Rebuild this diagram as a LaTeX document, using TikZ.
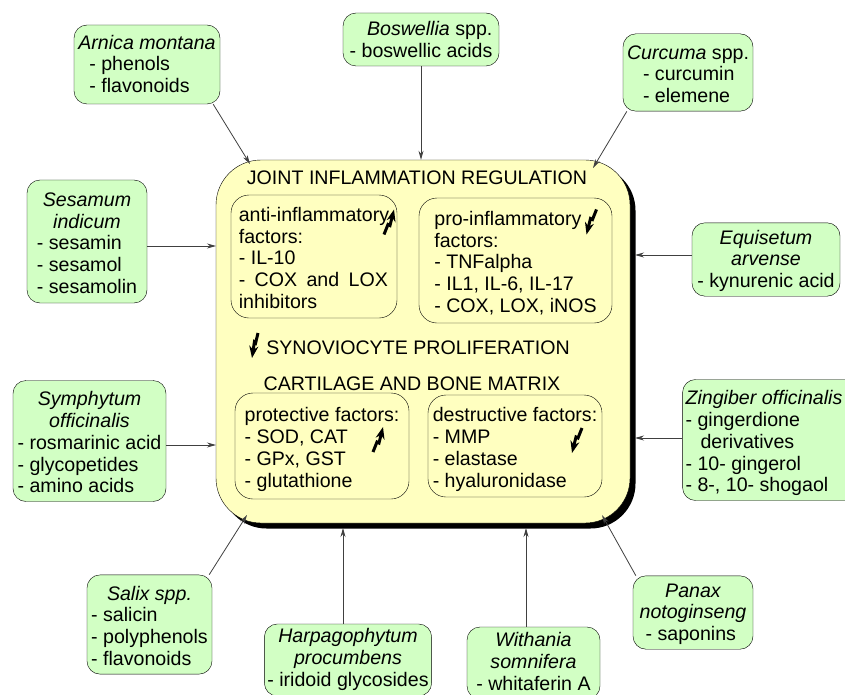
\documentclass[tikz,border=0pt]{standalone}
\usepackage{fontspec}
\setmainfont{Liberation Sans}
\usetikzlibrary{arrows.meta,shadows}

\definecolor{herb}{HTML}{D2FFC4}
\definecolor{jointbg}{HTML}{FFFFC0}

\newcommand{\genus}[1]{\multicolumn{1}{@{}c@{}}{\itshape #1}}
\newcommand{\listing}[2][8pt]{\begin{tabular}{@{}l@{}}\noalign{\vskip#1}#2\end{tabular}}

\tikzset{
  every node/.style={font=\fontsize{19.6}{21.8}\selectfont},
  plant/.style={draw, fill=herb, rounded corners=13pt, inner xsep=3pt, inner ysep=2pt},
  factor/.style={draw, rounded corners=18pt, inner sep=2pt},
  link/.style={draw=black!75, line width=0.8pt, -{Stealth[length=9pt,width=5pt]}},
  bolt/.style={line width=3pt, -{Stealth[length=12pt,width=9pt]}},
  boltup/.pic={\draw[bolt] (-5,12) -- (-1,2) -- (1,3) -- (5,-13);},
  boltdown/.pic={\draw[bolt] (5,-12) -- (1,-2) -- (-1,-3) -- (-5,13);}
}

\begin{document}
\begin{tikzpicture}[x=1pt,y=-1pt]
  \useasboundingbox[fill=white] (0,0) rectangle (845,695);

  % central box
  \node[draw, fill=jointbg, rounded corners=45pt, minimum width=414pt, minimum height=363pt,
    general shadow={fill=black, shadow xshift=5.5pt, shadow yshift=-5.5pt}] (joint) at (423,341.5) {};
  \node (regulation) at (417,177.5) {JOINT INFLAMMATION REGULATION};
  \node (synovio) at (418,348) {SYNOVIOCYTE PROLIFERATION};
  \node (matrix) at (412,384) {CARTILAGE AND BONE MATRIX};

  \node[factor, minimum width=166pt, minimum height=123pt] (anti) at (314,256.5)
    {\listing{anti-inflammatory\\ factors:\\ - IL-10\\ \makebox[149pt][s]{- COX and LOX}\\ inhibitors}};
  \node[factor, minimum width=193pt, minimum height=125pt] (pro) at (515.5,260.5)
    {\listing{pro-inflammatory\\ factors:\\ - TNFalpha\\ - IL1, IL-6, IL-17\\ - COX, LOX, iNOS}};
  \node[factor, minimum width=174pt, minimum height=106pt] (protect) at (322,446)
    {\listing{protective factors:\\ - SOD, CAT\\ - GPx, GST\\ - glutathione}};
  \node[factor, minimum width=174pt, minimum height=102pt] (destruct) at (515,446)
    {\listing{destructive factors:\\ - MMP\\ - elastase\\ - hyaluronidase}};

  % up / down trends
  \pic at (389,222.5) {boltup};
  \pic at (591.5,221.5) {boltdown};
  \pic[xscale=0.6] at (255,345) {boltdown};
  \pic at (378,440) {boltup};
  \pic at (577,440) {boltdown};

  % plants
  \node[plant, minimum width=146pt, minimum height=79pt] (arnica) at (147,64.5)
    {\listing[4pt]{\genus{Arnica montana}\\ \hspace*{11pt}- phenols\\ \hspace*{11pt}- flavonoids}};
  \node[plant, minimum width=156pt, minimum height=53pt] (boswellia) at (421,39.5)
    {\listing[5pt]{\multicolumn{1}{@{}r@{}}{\textit{Boswellia} spp.}\\ - boswellic acids}};
  \node[plant, minimum width=130pt, minimum height=75pt] (curcuma) at (688,72.5)
    {\listing{\textit{Curcuma} spp.\\ \hspace*{16pt}- curcumin\\ \hspace*{16pt}- elemene}};
  \node[plant, minimum width=120pt, minimum height=123pt] (sesamum) at (87,241.5)
    {\listing{\genus{Sesamum}\\ \genus{indicum}\\ - sesamin\\ - sesamol\\ - sesamolin}};
  \node[plant, minimum width=148pt, minimum height=69pt] (equisetum) at (766,259.5)
    {\listing[4pt]{\genus{Equisetum}\\ \genus{arvense}\\ - kynurenic acid}};
  \node[plant, minimum width=153pt, minimum height=118pt] (symphytum) at (89.5,441)
    {\listing{\genus{Symphytum}\\ \genus{officinalis}\\ - rosmarinic acid\\ - glycopetides\\ - amino acids}};
  \node[plant, minimum width=174pt, minimum height=120pt] (zingiber) at (771,440)
    {\listing{\textit{Zingiber officinalis}\hspace*{14pt}\\ - gingerdione\\ \hspace*{15pt}derivatives\\ - 10- gingerol\\ - 8-, 10- shogaol}};
  \node[plant, minimum width=125pt, minimum height=97pt] (salix) at (149.5,624.5)
    {\listing{\genus{Salix spp.}\\ - salicin\\ - polyphenols\\ - flavonoids}};
  \node[plant, minimum width=166pt, minimum height=72pt] (harpago) at (348,660)
    {\listing[0pt]{\genus{Harpagophytum}\\ \genus{procumbens}\\ - iridoid glycosides}};
  \node[plant, minimum width=133pt, minimum height=72pt] (withania) at (533.5,663)
    {\listing[2pt]{\genus{Withania}\\ \genus{somnifera}\\ - whitaferin A}};
  \node[plant, minimum width=120pt, minimum height=71pt] (panax) at (693,612.5)
    {\listing[4pt]{\genus{Panax}\\ \genus{notoginseng}\\ \hspace*{6pt}- saponins}};

  % where the arrows meet the central box
  \coordinate (jnw) at (250,164);
  \coordinate (jne) at (593,168);
  \coordinate (jw1) at (216,246);
  \coordinate (jw2) at (216,445);
  \coordinate (je1) at (635,255);
  \coordinate (je2) at (635,438);
  \coordinate (jsw) at (247,515);
  \coordinate (js1) at (343,528);
  \coordinate (js2) at (526,528);
  \coordinate (jse) at (602,515);

  \draw[link] ([xshift=-7pt]arnica.south east) -- (jnw);
  \draw[link] (boswellia.south) -- (boswellia.south |- joint.north);
  \draw[link] ([xshift=4pt]curcuma.south west) -- (jne);
  \draw[link] ([yshift=-4.5pt]sesamum.east) -- (jw1);
  \draw[link] ([yshift=4.5pt]equisetum.west) -- (je1);
  \draw[link] ([yshift=-4pt]symphytum.east) -- (jw2);
  \draw[link] ([yshift=2pt]zingiber.west) -- (je2);
  \draw[link] ([xshift=-3pt]salix.north east) -- (jsw);
  \draw[link] ([xshift=-5pt]harpago.north) -- (js1);
  \draw[link] ([xshift=-7.5pt]withania.north) -- (js2);
  \draw[link] ([xshift=3pt]panax.north west) -- (jse);
\end{tikzpicture}
\end{document}
